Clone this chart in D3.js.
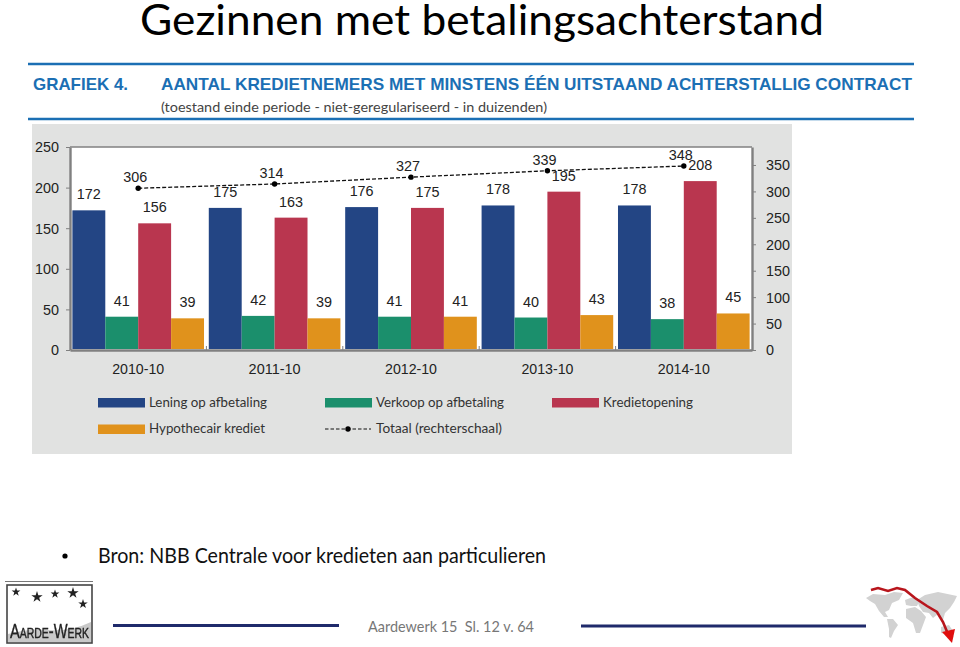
<!DOCTYPE html>
<html>
<head>
<meta charset="utf-8">
<title>Gezinnen met betalingsachterstand</title>
<script src="https://cdn.jsdelivr.net/npm/d3@7"></script>
<style>
	html, body { margin: 0; padding: 0; background: #fff; }
	svg { display: block; }
	.tick text { font-family: "Liberation Sans", Arial, sans-serif; }
</style>
</head>
<body>
<script>
// data
var categories = ["2010-10", "2011-10", "2012-10", "2013-10", "2014-10"];
var lening   = [172, 175, 176, 178, 178];
var verkoop  = [41, 42, 41, 40, 38];
var krediet  = [156, 163, 175, 195, 208];
var hypo     = [39, 39, 41, 43, 45];
var totaal   = [306, 314, 327, 339, 348];
var left_ticks  = [0, 50, 100, 150, 200, 250];
var right_ticks = [0, 50, 100, 150, 200, 250, 300, 350];
var series_names = ["Lening op afbetaling", "Verkoop op afbetaling", "Kredietopening", "Hypothecair krediet"];
var total_name = "Totaal (rechterschaal)";

var colors = ["#234584", "#1b8f6c", "#b9364f", "#e0921c"];
var blue = "#1b6fb4";
var sans = "'Liberation Sans', Arial, sans-serif";
var slide = "Lato, 'Noto Sans', sans-serif";

var svg = d3.select("body").append("svg")
	.attr("width", 960)
	.attr("height", 647);

// blur for the small raster-like pictures in the footer
svg.append("filter").attr("id", "soft")
	.append("feGaussianBlur").attr("stdDeviation", 0.6);

// text squeezed to the width measured in the picture
function fit(sel, w){
	return sel.attr("textLength", w).attr("lengthAdjust", "spacingAndGlyphs");
}

// slide title
svg.append("text")
	.attr("x", 140).attr("y", 35)
	.attr("font-family", slide)
	.attr("font-size", 43)
	.attr("fill", "#000")
	.call(fit, 684)
	.text("Gezinnen met betalingsachterstand");

// heading of the pasted chart
[64, 119].forEach(function(y){
	svg.append("line")
		.attr("x1", 28).attr("x2", 914)
		.attr("y1", y).attr("y2", y)
		.attr("stroke", blue)
		.attr("stroke-width", 2.4);
});
svg.append("text")
	.attr("x", 33).attr("y", 90)
	.attr("font-family", sans).attr("font-weight", "bold")
	.attr("font-size", 17).attr("fill", blue)
	.call(fit, 95)
	.text("GRAFIEK 4.");
svg.append("text")
	.attr("x", 161).attr("y", 90)
	.attr("font-family", sans).attr("font-weight", "bold")
	.attr("font-size", 17).attr("fill", blue)
	.call(fit, 751)
	.text("AANTAL KREDIETNEMERS MET MINSTENS ÉÉN UITSTAAND ACHTERSTALLIG CONTRACT");
svg.append("text")
	.attr("x", 161).attr("y", 112)
	.attr("font-family", slide)
	.attr("font-size", 14).attr("fill", "#444")
	.call(fit, 386)
	.text("(toestand einde periode - niet-geregulariseerd - in duizenden)");

// grey panel and white plot area
svg.append("rect")
	.attr("x", 32).attr("y", 124)
	.attr("width", 760).attr("height", 330)
	.attr("fill", "#e1e2e1");

var plot = {left: 70, right: 752, top: 147, bottom: 350};
svg.append("rect")
	.attr("x", plot.left).attr("y", plot.top)
	.attr("width", plot.right - plot.left).attr("height", plot.bottom - plot.top)
	.attr("fill", "#fff");

// scales
var x0 = d3.scaleBand()
	.domain(categories)
	.range([plot.left, plot.right])
	.paddingInner(0.035)
	.paddingOuter(0.0175);
var x1 = d3.scaleBand()
	.domain(d3.range(4))
	.range([0, x0.bandwidth()]);
var y_left = d3.scaleLinear()
	.domain([0, 250])
	.range([plot.bottom, plot.top]);
var y_right = d3.scaleLinear()
	.domain([0, 384])
	.range([plot.bottom, plot.top]);

// digits in the picture are taller than they are wide
function digit_width(d){
	return String(d).length * 8;
}

// axes
function style_axis(g){
	g.selectAll("path, line").attr("stroke", "#808080");
	g.select("path").attr("stroke-width", 2.4);
	g.selectAll("text")
		.attr("font-size", 15.5)
		.attr("fill", "#222")
		.attr("lengthAdjust", "spacingAndGlyphs")
		.attr("textLength", function(){
			return this.textContent.length > 3 ? 52 : digit_width(this.textContent);
		});
}
svg.append("g")
	.attr("transform", "translate(" + plot.left + ",0)")
	.call(d3.axisLeft(y_left).tickValues(left_ticks).tickSize(4).tickSizeOuter(0).tickPadding(7))
	.call(style_axis);
svg.append("g")
	.attr("transform", "translate(" + plot.right + ",0)")
	.call(d3.axisRight(y_right).tickValues(right_ticks).tickSize(4).tickSizeOuter(0).tickPadding(10))
	.call(style_axis);
svg.append("g")
	.attr("transform", "translate(0," + plot.bottom + ")")
	.call(d3.axisBottom(x0).tickSize(0).tickPadding(13))
	.call(style_axis);
svg.append("line")
	.attr("x1", plot.left).attr("x2", plot.right)
	.attr("y1", plot.top).attr("y2", plot.top)
	.attr("stroke", "#808080").attr("stroke-width", 1.6);

// small ticks between the groups
categories.slice(1).forEach(function(c){
	var gap = x0(c) - x0.step() * x0.paddingInner() / 2;
	svg.append("line")
		.attr("x1", gap).attr("x2", gap)
		.attr("y1", plot.bottom - 4).attr("y2", plot.bottom)
		.attr("stroke", "#808080");
});

// bars and their labels
[lening, verkoop, krediet, hypo].forEach(function(values, s){
	var g = svg.append("g");
	g.selectAll("rect")
		.data(values)
		.enter().append("rect")
		.attr("x", function(d, i){ return x0(categories[i]) + x1(s); })
		.attr("y", function(d){ return y_left(d); })
		.attr("width", x1.bandwidth())
		.attr("height", function(d){ return y_left(0) - y_left(d) - 1; })
		.attr("fill", colors[s]);
	g.selectAll("text")
		.data(values)
		.enter().append("text")
		.attr("x", function(d, i){ return x0(categories[i]) + x1(s) + x1.bandwidth() / 2; })
		.attr("y", function(d){ return y_left(d) - 11; })
		.attr("text-anchor", "middle")
		.attr("font-family", sans)
		.attr("font-size", 15.5)
		.attr("fill", "#222")
		.attr("lengthAdjust", "spacingAndGlyphs")
		.attr("textLength", digit_width)
		.text(function(d){ return d; });
});

// total line on the right scale
var total_x = function(d, i){ return x0(categories[i]) + x0.bandwidth() / 2; };
svg.append("path")
	.datum(totaal)
	.attr("fill", "none")
	.attr("stroke", "#111")
	.attr("stroke-width", 1.3)
	.attr("stroke-dasharray", "4,2")
	.attr("d", d3.line().x(total_x).y(function(d){ return y_right(d); }));
svg.selectAll(".total_dot")
	.data(totaal)
	.enter().append("circle")
	.attr("class", "total_dot")
	.attr("cx", total_x)
	.attr("cy", function(d){ return y_right(d); })
	.attr("r", 2.7)
	.attr("fill", "#000");
svg.selectAll(".total_label")
	.data(totaal)
	.enter().append("text")
	.attr("class", "total_label")
	.attr("x", function(d, i){ return total_x(d, i) - 3; })
	.attr("y", function(d){ return y_right(d) - 6; })
	.attr("text-anchor", "middle")
	.attr("font-family", sans)
	.attr("font-size", 15.5)
	.attr("fill", "#222")
	.attr("lengthAdjust", "spacingAndGlyphs")
	.attr("textLength", digit_width)
	.text(function(d){ return d; });

// legend
var legend_x = [98, 325, 552, 98];
var legend_y = [402.5, 402.5, 402.5, 429];
var legend_w = [118, 128, 90, 116];
series_names.forEach(function(name, s){
	svg.append("rect")
		.attr("x", legend_x[s]).attr("y", legend_y[s] - 4.5)
		.attr("width", 47).attr("height", 9.5)
		.attr("fill", colors[s]);
	svg.append("text")
		.attr("x", legend_x[s] + 51).attr("y", legend_y[s] + 4)
		.attr("font-family", slide)
		.attr("font-size", 13.5).attr("fill", "#333")
		.call(fit, legend_w[s])
		.text(name);
});
svg.append("line")
	.attr("x1", 325).attr("x2", 371)
	.attr("y1", 429).attr("y2", 429)
	.attr("stroke", "#111").attr("stroke-width", 1.2)
	.attr("stroke-dasharray", "3.5,2");
svg.append("circle")
	.attr("cx", 348).attr("cy", 429).attr("r", 2.7).attr("fill", "#000");
svg.append("text")
	.attr("x", 376).attr("y", 433)
	.attr("font-family", slide)
	.attr("font-size", 13.5).attr("fill", "#333")
	.call(fit, 126)
	.text(total_name);

// source line with bullet
svg.append("circle")
	.attr("cx", 65).attr("cy", 556).attr("r", 2.6).attr("fill", "#000");
svg.append("text")
	.attr("x", 98).attr("y", 563)
	.attr("font-family", slide)
	.attr("font-size", 20.5).attr("fill", "#111")
	.call(fit, 448)
	.text("Bron: NBB Centrale voor kredieten aan particulieren");

// footer
svg.append("line")
	.attr("x1", 113).attr("x2", 339).attr("y1", 625.5).attr("y2", 625.5)
	.attr("stroke", "#1f2a6b").attr("stroke-width", 3);
svg.append("line")
	.attr("x1", 581).attr("x2", 866).attr("y1", 626).attr("y2", 626)
	.attr("stroke", "#1f2a6b").attr("stroke-width", 3);
svg.append("text")
	.attr("x", 368).attr("y", 632)
	.attr("font-family", slide)
	.attr("font-size", 16).attr("fill", "#777")
	.style("white-space", "pre")
	.call(fit, 166)
	.text("Aardewerk 15  Sl. 12 v. 64");

// logo bottom left
var logo = svg.append("g").attr("filter", "url(#soft)");
logo.append("line")
	.attr("x1", 5).attr("x2", 93).attr("y1", 581.5).attr("y2", 581.5)
	.attr("stroke", "#777").attr("stroke-width", 1);
logo.append("rect")
	.attr("x", 7).attr("y", 585)
	.attr("width", 85).attr("height", 58)
	.attr("fill", "#fff").attr("stroke", "#444").attr("stroke-width", 1.6);
logo.append("path")
	.attr("d", "M8,642 L8,634 Q30,628 48,630 Q70,632 91,622 L91,642 Z")
	.attr("fill", "#c9c9c9");
[[16, 592, 24], [37, 597, 40], [55, 594, 24], [73, 593, 40], [83, 604, 28]].forEach(function(p){
	logo.append("path")
		.attr("transform", "translate(" + p[0] + "," + p[1] + ")")
		.attr("d", d3.symbol().type(d3.symbolStar).size(p[2])())
		.attr("fill", "#222");
});
logo.append("text")
	.attr("x", 10).attr("y", 638)
	.attr("font-family", "'Liberation Sans', sans-serif")
	.attr("font-size", 21)
	.attr("font-variant", "small-caps")
	.style("font-variant", "small-caps")
	.attr("fill", "#222")
	.attr("stroke", "#222")
	.attr("stroke-width", 0.4)
	.call(fit, 79)
	.text("Aarde-Werk");

// world map with falling arrow bottom right
var map_parts = [
	"M866,598 L873,594 L885,595 L894,592 L903,593 L899,600 L892,603 L889,610 L885,612 L888,617 L884,617 L879,611 L875,604 L870,601 Z",
	"M887,619 L893,619 L898,625 L894,631 L891,638 L889,637 L889,629 Z",
	"M905,600 L913,597 L920,600 L917,606 L911,606 L906,605 Z",
	"M906,609 L915,607 L921,611 L926,617 L923,625 L920,633 L916,633 L913,623 L906,618 Z",
	"M917,600 L925,595 L938,592 L957,596 L954,602 L950,608 L945,613 L943,620 L938,614 L933,618 L929,613 L923,612 L919,606 Z",
	"M941,627 L949,625 L953,631 L948,635 L941,633 Z"
];
var map = svg.append("g").attr("filter", "url(#soft)");
map_parts.forEach(function(d){
	map.append("path").attr("d", d).attr("fill", "#d2d2d2");
});
map.append("path")
	.attr("d", "M871,590 L878,588 L888,591 L897,588 L905,590 L915,598 L927,606 L937,612 L943,622 L948,634")
	.attr("fill", "none")
	.attr("stroke", "#b8141c")
	.attr("stroke-width", 2.6);
map.append("path")
	.attr("d", "M942,632 L955,629 L952,643 Z")
	.attr("fill", "#e01010");
</script>
</body>
</html>
